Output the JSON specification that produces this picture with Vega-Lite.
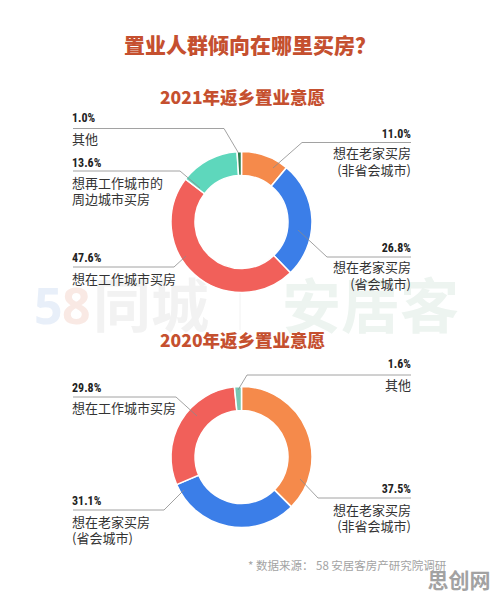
{
  "$schema": "https://vega.github.io/schema/vega-lite/v6.json",
  "width": 496,
  "height": 599,
  "autosize": {"type": "fit", "contains": "padding"},
  "padding": 0,
  "background": "white",
  "config": {"view": {"stroke": null}, "text": {"font": "Noto Sans CJK SC"}},
  "datasets": {
    "shares": [
      {"year": "2021", "category": "想在老家买房（非省会城市）", "label": "想在老家买房\n(非省会城市)", "value": 11.0},
      {"year": "2021", "category": "想在老家买房（省会城市）", "label": "想在老家买房\n(省会城市)", "value": 26.8},
      {"year": "2021", "category": "想在工作城市买房", "label": "想在工作城市买房", "value": 47.6},
      {"year": "2021", "category": "想再工作城市的周边城市买房", "label": "想再工作城市的\n周边城市买房", "value": 13.6},
      {"year": "2021", "category": "其他", "label": "其他", "value": 1.0},
      {"year": "2020", "category": "想在老家买房（非省会城市）", "label": "想在老家买房\n(非省会城市)", "value": 37.5},
      {"year": "2020", "category": "想在老家买房（省会城市）", "label": "想在老家买房\n(省会城市)", "value": 31.1},
      {"year": "2020", "category": "想在工作城市买房", "label": "想在工作城市买房", "value": 29.8},
      {"year": "2020", "category": "其他", "label": "其他", "value": 1.6}
    ]
  },
  "data": {"name": "shares"},
  "transform": [
    {"calculate": "format(datum.value, '.1f') + '%'", "as": "pct"},
    {"calculate": "datum.category == '其他' ? '其他' + datum.year : datum.category", "as": "colorKey"}
  ],
  "layer": [
    {
      "data": {"values": [{}]},
      "layer": [
        {"mark": {"type": "text", "text": "5", "fontSize": 50, "fontWeight": "bold", "align": "left", "baseline": "middle", "color": "#e8eff9", "font": "Noto Sans"},
         "encoding": {"x": {"datum": 34, "type": "quantitative", "scale": {"domain": [0, 496], "nice": false, "zero": false}, "axis": null},
                      "y": {"datum": 309, "type": "quantitative", "scale": {"domain": [0, 599], "nice": false, "zero": false, "reverse": true}, "axis": null}}},
        {"mark": {"type": "text", "text": "8", "fontSize": 50, "fontWeight": "bold", "align": "left", "baseline": "middle", "color": "#f9e9e4", "font": "Noto Sans"},
         "encoding": {"x": {"datum": 62, "type": "quantitative", "scale": {"domain": [0, 496], "nice": false, "zero": false}, "axis": null},
                      "y": {"datum": 309, "type": "quantitative", "scale": {"domain": [0, 599], "nice": false, "zero": false, "reverse": true}, "axis": null}}},
        {"mark": {"type": "text", "text": "同城", "fontSize": 58, "fontWeight": "bold", "align": "left", "baseline": "middle", "color": "#f2f2f2"},
         "encoding": {"x": {"datum": 93, "type": "quantitative", "scale": {"domain": [0, 496], "nice": false, "zero": false}, "axis": null},
                      "y": {"datum": 310, "type": "quantitative", "scale": {"domain": [0, 599], "nice": false, "zero": false, "reverse": true}, "axis": null}}},
        {"mark": {"type": "text", "text": "安居客", "fontSize": 59, "fontWeight": "bold", "align": "left", "baseline": "middle", "color": "#edf4f0"},
         "encoding": {"x": {"datum": 282, "type": "quantitative", "scale": {"domain": [0, 496], "nice": false, "zero": false}, "axis": null},
                      "y": {"datum": 310, "type": "quantitative", "scale": {"domain": [0, 599], "nice": false, "zero": false, "reverse": true}, "axis": null}}},
        {"mark": {"type": "rule", "color": "#f2f2f2", "strokeWidth": 1},
         "encoding": {"x": {"datum": 240, "type": "quantitative", "scale": {"domain": [0, 496], "nice": false, "zero": false}, "axis": null},
                      "y": {"datum": 284, "type": "quantitative", "scale": {"domain": [0, 599], "nice": false, "zero": false, "reverse": true}, "axis": null},
                      "y2": {"datum": 330}}},
        {"mark": {"type": "text", "text": "置业人群倾向在哪里买房？", "fontSize": 21, "fontWeight": 900, "align": "center", "baseline": "middle", "color": "#c5502f"},
         "encoding": {"x": {"datum": 250, "type": "quantitative", "scale": {"domain": [0, 496], "nice": false, "zero": false}, "axis": null},
                      "y": {"datum": 46.5, "type": "quantitative", "scale": {"domain": [0, 599], "nice": false, "zero": false, "reverse": true}, "axis": null}}},
        {"mark": {"type": "text", "text": "2021年返乡置业意愿", "fontSize": 17.5, "fontWeight": 900, "align": "center", "baseline": "middle", "color": "#c5502f"},
         "encoding": {"x": {"datum": 242.5, "type": "quantitative", "scale": {"domain": [0, 496], "nice": false, "zero": false}, "axis": null},
                      "y": {"datum": 98.5, "type": "quantitative", "scale": {"domain": [0, 599], "nice": false, "zero": false, "reverse": true}, "axis": null}}},
        {"mark": {"type": "text", "text": "2020年返乡置业意愿", "fontSize": 17.5, "fontWeight": 900, "align": "center", "baseline": "middle", "color": "#c5502f"},
         "encoding": {"x": {"datum": 242.5, "type": "quantitative", "scale": {"domain": [0, 496], "nice": false, "zero": false}, "axis": null},
                      "y": {"datum": 341.5, "type": "quantitative", "scale": {"domain": [0, 599], "nice": false, "zero": false, "reverse": true}, "axis": null}}},
        {"mark": {"type": "text", "text": "* 数据来源： 58 安居客房产研究院调研", "fontSize": 11.5, "align": "left", "baseline": "middle", "color": "#a3a3a3"},
         "encoding": {"x": {"datum": 248, "type": "quantitative", "scale": {"domain": [0, 496], "nice": false, "zero": false}, "axis": null},
                      "y": {"datum": 567, "type": "quantitative", "scale": {"domain": [0, 599], "nice": false, "zero": false, "reverse": true}, "axis": null}}},
        {"mark": {"type": "text", "text": "思创网", "fontSize": 21, "fontWeight": "bold", "align": "center", "baseline": "middle", "color": "#a2a2a2"},
         "encoding": {"x": {"datum": 459, "type": "quantitative", "scale": {"domain": [0, 496], "nice": false, "zero": false}, "axis": null},
                      "y": {"datum": 581.5, "type": "quantitative", "scale": {"domain": [0, 599], "nice": false, "zero": false, "reverse": true}, "axis": null}}}
      ]
    },
    {
      "transform": [{"filter": "datum.year == '2021'"}, {"window": [{"op": "row_number", "as": "idx"}]}],
      "mark": {"type": "arc", "outerRadius": 70.5, "innerRadius": 46.5, "stroke": "white", "strokeWidth": 1.5},
      "encoding": {
        "theta": {"field": "value", "type": "quantitative", "stack": true},
        "order": {"field": "idx", "type": "quantitative"},
        "color": {"field": "colorKey", "type": "nominal", "legend": null,
                  "scale": {"domain": ["想在老家买房（非省会城市）", "想在老家买房（省会城市）", "想在工作城市买房", "想再工作城市的周边城市买房", "其他2021", "其他2020"],
                            "range": ["#f58a4b", "#3b7ee8", "#f1605a", "#5ed7bc", "#2f7c4e", "#78c8b3"]}},
        "x": {"datum": 241.5, "type": "quantitative", "scale": {"domain": [0, 496], "nice": false, "zero": false}, "axis": null},
        "y": {"datum": 222, "type": "quantitative", "scale": {"domain": [0, 599], "nice": false, "zero": false, "reverse": true}, "axis": null}
      }
    },
    {
      "transform": [{"filter": "datum.year == '2020'"}, {"window": [{"op": "row_number", "as": "idx"}]}],
      "mark": {"type": "arc", "outerRadius": 70.5, "innerRadius": 46.5, "stroke": "white", "strokeWidth": 1.5},
      "encoding": {
        "theta": {"field": "value", "type": "quantitative", "stack": true},
        "order": {"field": "idx", "type": "quantitative"},
        "color": {"field": "colorKey", "type": "nominal", "legend": null,
                  "scale": {"domain": ["想在老家买房（非省会城市）", "想在老家买房（省会城市）", "想在工作城市买房", "想再工作城市的周边城市买房", "其他2021", "其他2020"],
                            "range": ["#f58a4b", "#3b7ee8", "#f1605a", "#5ed7bc", "#2f7c4e", "#78c8b3"]}},
        "x": {"datum": 241.5, "type": "quantitative", "scale": {"domain": [0, 496], "nice": false, "zero": false}, "axis": null},
        "y": {"datum": 457, "type": "quantitative", "scale": {"domain": [0, 599], "nice": false, "zero": false, "reverse": true}, "axis": null}
      }
    },
    {
      "transform": [{"filter": "datum.year == '2021' && datum.category == '其他'"}],
      "layer": [
        {"mark": {"type": "rule", "color": "#8a8a8a", "strokeWidth": 0.8},
         "encoding": {"x": {"datum": 73, "type": "quantitative", "scale": {"domain": [0, 496], "nice": false, "zero": false}, "axis": null}, "x2": {"datum": 224},
                      "y": {"datum": 128.5, "type": "quantitative", "scale": {"domain": [0, 599], "nice": false, "zero": false, "reverse": true}, "axis": null}, "y2": {"datum": 128.5}}},
        {"mark": {"type": "rule", "color": "#8a8a8a", "strokeWidth": 0.8},
         "encoding": {"x": {"datum": 224, "type": "quantitative", "scale": {"domain": [0, 496], "nice": false, "zero": false}, "axis": null}, "x2": {"datum": 238.5},
                      "y": {"datum": 128.5, "type": "quantitative", "scale": {"domain": [0, 599], "nice": false, "zero": false, "reverse": true}, "axis": null}, "y2": {"datum": 153}}},
        {"mark": {"type": "text", "align": "left", "baseline": "middle", "fontSize": 12, "fontWeight": "bold", "color": "#222", "font": "Liberation Sans Narrow, Roboto Condensed, Roboto"},
         "encoding": {"text": {"field": "pct"}, "x": {"datum": 72, "type": "quantitative", "scale": {"domain": [0, 496], "nice": false, "zero": false}, "axis": null},
                      "y": {"datum": 117.5, "type": "quantitative", "scale": {"domain": [0, 599], "nice": false, "zero": false, "reverse": true}, "axis": null}}},
        {"mark": {"type": "text", "align": "left", "baseline": "middle", "fontSize": 13, "color": "#333", "lineBreak": "\n", "lineHeight": 15.5},
         "encoding": {"text": {"field": "label"}, "x": {"datum": 72, "type": "quantitative", "scale": {"domain": [0, 496], "nice": false, "zero": false}, "axis": null},
                      "y": {"datum": 140, "type": "quantitative", "scale": {"domain": [0, 599], "nice": false, "zero": false, "reverse": true}, "axis": null}}}
      ]
    },
    {
      "transform": [{"filter": "datum.year == '2021' && datum.category == '想再工作城市的周边城市买房'"}],
      "layer": [
        {"mark": {"type": "rule", "color": "#8a8a8a", "strokeWidth": 0.8},
         "encoding": {"x": {"datum": 73, "type": "quantitative", "scale": {"domain": [0, 496], "nice": false, "zero": false}, "axis": null}, "x2": {"datum": 180},
                      "y": {"datum": 171, "type": "quantitative", "scale": {"domain": [0, 599], "nice": false, "zero": false, "reverse": true}, "axis": null}, "y2": {"datum": 171}}},
        {"mark": {"type": "rule", "color": "#8a8a8a", "strokeWidth": 0.8},
         "encoding": {"x": {"datum": 180, "type": "quantitative", "scale": {"domain": [0, 496], "nice": false, "zero": false}, "axis": null}, "x2": {"datum": 200},
                      "y": {"datum": 171, "type": "quantitative", "scale": {"domain": [0, 599], "nice": false, "zero": false, "reverse": true}, "axis": null}, "y2": {"datum": 188}}},
        {"mark": {"type": "text", "align": "left", "baseline": "middle", "fontSize": 12, "fontWeight": "bold", "color": "#222", "font": "Liberation Sans Narrow, Roboto Condensed, Roboto"},
         "encoding": {"text": {"field": "pct"}, "x": {"datum": 72, "type": "quantitative", "scale": {"domain": [0, 496], "nice": false, "zero": false}, "axis": null},
                      "y": {"datum": 162.5, "type": "quantitative", "scale": {"domain": [0, 599], "nice": false, "zero": false, "reverse": true}, "axis": null}}},
        {"mark": {"type": "text", "align": "left", "baseline": "middle", "fontSize": 13, "color": "#333", "lineBreak": "\n", "lineHeight": 15.5},
         "encoding": {"text": {"field": "label"}, "x": {"datum": 72, "type": "quantitative", "scale": {"domain": [0, 496], "nice": false, "zero": false}, "axis": null},
                      "y": {"datum": 184, "type": "quantitative", "scale": {"domain": [0, 599], "nice": false, "zero": false, "reverse": true}, "axis": null}}}
      ]
    },
    {
      "transform": [{"filter": "datum.year == '2021' && datum.category == '想在工作城市买房'"}],
      "layer": [
        {"mark": {"type": "rule", "color": "#8a8a8a", "strokeWidth": 0.8},
         "encoding": {"x": {"datum": 73, "type": "quantitative", "scale": {"domain": [0, 496], "nice": false, "zero": false}, "axis": null}, "x2": {"datum": 174},
                      "y": {"datum": 267, "type": "quantitative", "scale": {"domain": [0, 599], "nice": false, "zero": false, "reverse": true}, "axis": null}, "y2": {"datum": 267}}},
        {"mark": {"type": "rule", "color": "#8a8a8a", "strokeWidth": 0.8},
         "encoding": {"x": {"datum": 174, "type": "quantitative", "scale": {"domain": [0, 496], "nice": false, "zero": false}, "axis": null}, "x2": {"datum": 186},
                      "y": {"datum": 267, "type": "quantitative", "scale": {"domain": [0, 599], "nice": false, "zero": false, "reverse": true}, "axis": null}, "y2": {"datum": 256}}},
        {"mark": {"type": "text", "align": "left", "baseline": "middle", "fontSize": 12, "fontWeight": "bold", "color": "#222", "font": "Liberation Sans Narrow, Roboto Condensed, Roboto"},
         "encoding": {"text": {"field": "pct"}, "x": {"datum": 72, "type": "quantitative", "scale": {"domain": [0, 496], "nice": false, "zero": false}, "axis": null},
                      "y": {"datum": 257.5, "type": "quantitative", "scale": {"domain": [0, 599], "nice": false, "zero": false, "reverse": true}, "axis": null}}},
        {"mark": {"type": "text", "align": "left", "baseline": "middle", "fontSize": 13, "color": "#333", "lineBreak": "\n", "lineHeight": 15.5},
         "encoding": {"text": {"field": "label"}, "x": {"datum": 72, "type": "quantitative", "scale": {"domain": [0, 496], "nice": false, "zero": false}, "axis": null},
                      "y": {"datum": 280, "type": "quantitative", "scale": {"domain": [0, 599], "nice": false, "zero": false, "reverse": true}, "axis": null}}}
      ]
    },
    {
      "transform": [{"filter": "datum.year == '2021' && datum.category == '想在老家买房（非省会城市）'"}],
      "layer": [
        {"mark": {"type": "rule", "color": "#8a8a8a", "strokeWidth": 0.8},
         "encoding": {"x": {"datum": 411, "type": "quantitative", "scale": {"domain": [0, 496], "nice": false, "zero": false}, "axis": null}, "x2": {"datum": 302},
                      "y": {"datum": 142.5, "type": "quantitative", "scale": {"domain": [0, 599], "nice": false, "zero": false, "reverse": true}, "axis": null}, "y2": {"datum": 142.5}}},
        {"mark": {"type": "rule", "color": "#8a8a8a", "strokeWidth": 0.8},
         "encoding": {"x": {"datum": 302, "type": "quantitative", "scale": {"domain": [0, 496], "nice": false, "zero": false}, "axis": null}, "x2": {"datum": 273},
                      "y": {"datum": 142.5, "type": "quantitative", "scale": {"domain": [0, 599], "nice": false, "zero": false, "reverse": true}, "axis": null}, "y2": {"datum": 168}}},
        {"mark": {"type": "text", "align": "right", "baseline": "middle", "fontSize": 12, "fontWeight": "bold", "color": "#222", "font": "Liberation Sans Narrow, Roboto Condensed, Roboto"},
         "encoding": {"text": {"field": "pct"}, "x": {"datum": 411, "type": "quantitative", "scale": {"domain": [0, 496], "nice": false, "zero": false}, "axis": null},
                      "y": {"datum": 134, "type": "quantitative", "scale": {"domain": [0, 599], "nice": false, "zero": false, "reverse": true}, "axis": null}}},
        {"mark": {"type": "text", "align": "right", "baseline": "middle", "fontSize": 13, "color": "#333", "lineBreak": "\n", "lineHeight": 16.5},
         "encoding": {"text": {"field": "label"}, "x": {"datum": 411, "type": "quantitative", "scale": {"domain": [0, 496], "nice": false, "zero": false}, "axis": null},
                      "y": {"datum": 154, "type": "quantitative", "scale": {"domain": [0, 599], "nice": false, "zero": false, "reverse": true}, "axis": null}}}
      ]
    },
    {
      "transform": [{"filter": "datum.year == '2021' && datum.category == '想在老家买房（省会城市）'"}],
      "layer": [
        {"mark": {"type": "rule", "color": "#8a8a8a", "strokeWidth": 0.8},
         "encoding": {"x": {"datum": 411, "type": "quantitative", "scale": {"domain": [0, 496], "nice": false, "zero": false}, "axis": null}, "x2": {"datum": 327},
                      "y": {"datum": 257, "type": "quantitative", "scale": {"domain": [0, 599], "nice": false, "zero": false, "reverse": true}, "axis": null}, "y2": {"datum": 257}}},
        {"mark": {"type": "rule", "color": "#8a8a8a", "strokeWidth": 0.8},
         "encoding": {"x": {"datum": 327, "type": "quantitative", "scale": {"domain": [0, 496], "nice": false, "zero": false}, "axis": null}, "x2": {"datum": 298},
                      "y": {"datum": 257, "type": "quantitative", "scale": {"domain": [0, 599], "nice": false, "zero": false, "reverse": true}, "axis": null}, "y2": {"datum": 230}}},
        {"mark": {"type": "text", "align": "right", "baseline": "middle", "fontSize": 12, "fontWeight": "bold", "color": "#222", "font": "Liberation Sans Narrow, Roboto Condensed, Roboto"},
         "encoding": {"text": {"field": "pct"}, "x": {"datum": 411, "type": "quantitative", "scale": {"domain": [0, 496], "nice": false, "zero": false}, "axis": null},
                      "y": {"datum": 247.5, "type": "quantitative", "scale": {"domain": [0, 599], "nice": false, "zero": false, "reverse": true}, "axis": null}}},
        {"mark": {"type": "text", "align": "right", "baseline": "middle", "fontSize": 13, "color": "#333", "lineBreak": "\n", "lineHeight": 16.5},
         "encoding": {"text": {"field": "label"}, "x": {"datum": 411, "type": "quantitative", "scale": {"domain": [0, 496], "nice": false, "zero": false}, "axis": null},
                      "y": {"datum": 268, "type": "quantitative", "scale": {"domain": [0, 599], "nice": false, "zero": false, "reverse": true}, "axis": null}}}
      ]
    },
    {
      "transform": [{"filter": "datum.year == '2020' && datum.category == '其他'"}],
      "layer": [
        {"mark": {"type": "rule", "color": "#8a8a8a", "strokeWidth": 0.8},
         "encoding": {"x": {"datum": 411, "type": "quantitative", "scale": {"domain": [0, 496], "nice": false, "zero": false}, "axis": null}, "x2": {"datum": 247},
                      "y": {"datum": 375, "type": "quantitative", "scale": {"domain": [0, 599], "nice": false, "zero": false, "reverse": true}, "axis": null}, "y2": {"datum": 375}}},
        {"mark": {"type": "rule", "color": "#8a8a8a", "strokeWidth": 0.8},
         "encoding": {"x": {"datum": 247, "type": "quantitative", "scale": {"domain": [0, 496], "nice": false, "zero": false}, "axis": null}, "x2": {"datum": 238},
                      "y": {"datum": 375, "type": "quantitative", "scale": {"domain": [0, 599], "nice": false, "zero": false, "reverse": true}, "axis": null}, "y2": {"datum": 390}}},
        {"mark": {"type": "text", "align": "right", "baseline": "middle", "fontSize": 12, "fontWeight": "bold", "color": "#222", "font": "Liberation Sans Narrow, Roboto Condensed, Roboto"},
         "encoding": {"text": {"field": "pct"}, "x": {"datum": 411, "type": "quantitative", "scale": {"domain": [0, 496], "nice": false, "zero": false}, "axis": null},
                      "y": {"datum": 364, "type": "quantitative", "scale": {"domain": [0, 599], "nice": false, "zero": false, "reverse": true}, "axis": null}}},
        {"mark": {"type": "text", "align": "right", "baseline": "middle", "fontSize": 13, "color": "#333", "lineBreak": "\n", "lineHeight": 16},
         "encoding": {"text": {"field": "label"}, "x": {"datum": 411, "type": "quantitative", "scale": {"domain": [0, 496], "nice": false, "zero": false}, "axis": null},
                      "y": {"datum": 386, "type": "quantitative", "scale": {"domain": [0, 599], "nice": false, "zero": false, "reverse": true}, "axis": null}}}
      ]
    },
    {
      "transform": [{"filter": "datum.year == '2020' && datum.category == '想在工作城市买房'"}],
      "layer": [
        {"mark": {"type": "rule", "color": "#8a8a8a", "strokeWidth": 0.8},
         "encoding": {"x": {"datum": 73, "type": "quantitative", "scale": {"domain": [0, 496], "nice": false, "zero": false}, "axis": null}, "x2": {"datum": 176},
                      "y": {"datum": 397, "type": "quantitative", "scale": {"domain": [0, 599], "nice": false, "zero": false, "reverse": true}, "axis": null}, "y2": {"datum": 397}}},
        {"mark": {"type": "rule", "color": "#8a8a8a", "strokeWidth": 0.8},
         "encoding": {"x": {"datum": 176, "type": "quantitative", "scale": {"domain": [0, 496], "nice": false, "zero": false}, "axis": null}, "x2": {"datum": 197},
                      "y": {"datum": 397, "type": "quantitative", "scale": {"domain": [0, 599], "nice": false, "zero": false, "reverse": true}, "axis": null}, "y2": {"datum": 416}}},
        {"mark": {"type": "text", "align": "left", "baseline": "middle", "fontSize": 12, "fontWeight": "bold", "color": "#222", "font": "Liberation Sans Narrow, Roboto Condensed, Roboto"},
         "encoding": {"text": {"field": "pct"}, "x": {"datum": 72, "type": "quantitative", "scale": {"domain": [0, 496], "nice": false, "zero": false}, "axis": null},
                      "y": {"datum": 387.5, "type": "quantitative", "scale": {"domain": [0, 599], "nice": false, "zero": false, "reverse": true}, "axis": null}}},
        {"mark": {"type": "text", "align": "left", "baseline": "middle", "fontSize": 13, "color": "#333", "lineBreak": "\n", "lineHeight": 16},
         "encoding": {"text": {"field": "label"}, "x": {"datum": 72, "type": "quantitative", "scale": {"domain": [0, 496], "nice": false, "zero": false}, "axis": null},
                      "y": {"datum": 409, "type": "quantitative", "scale": {"domain": [0, 599], "nice": false, "zero": false, "reverse": true}, "axis": null}}}
      ]
    },
    {
      "transform": [{"filter": "datum.year == '2020' && datum.category == '想在老家买房（非省会城市）'"}],
      "layer": [
        {"mark": {"type": "rule", "color": "#8a8a8a", "strokeWidth": 0.8},
         "encoding": {"x": {"datum": 411, "type": "quantitative", "scale": {"domain": [0, 496], "nice": false, "zero": false}, "axis": null}, "x2": {"datum": 318},
                      "y": {"datum": 498, "type": "quantitative", "scale": {"domain": [0, 599], "nice": false, "zero": false, "reverse": true}, "axis": null}, "y2": {"datum": 498}}},
        {"mark": {"type": "rule", "color": "#8a8a8a", "strokeWidth": 0.8},
         "encoding": {"x": {"datum": 318, "type": "quantitative", "scale": {"domain": [0, 496], "nice": false, "zero": false}, "axis": null}, "x2": {"datum": 300},
                      "y": {"datum": 498, "type": "quantitative", "scale": {"domain": [0, 599], "nice": false, "zero": false, "reverse": true}, "axis": null}, "y2": {"datum": 479}}},
        {"mark": {"type": "text", "align": "right", "baseline": "middle", "fontSize": 12, "fontWeight": "bold", "color": "#222", "font": "Liberation Sans Narrow, Roboto Condensed, Roboto"},
         "encoding": {"text": {"field": "pct"}, "x": {"datum": 411, "type": "quantitative", "scale": {"domain": [0, 496], "nice": false, "zero": false}, "axis": null},
                      "y": {"datum": 488.5, "type": "quantitative", "scale": {"domain": [0, 599], "nice": false, "zero": false, "reverse": true}, "axis": null}}},
        {"mark": {"type": "text", "align": "right", "baseline": "middle", "fontSize": 13, "color": "#333", "lineBreak": "\n", "lineHeight": 15.5},
         "encoding": {"text": {"field": "label"}, "x": {"datum": 411, "type": "quantitative", "scale": {"domain": [0, 496], "nice": false, "zero": false}, "axis": null},
                      "y": {"datum": 511, "type": "quantitative", "scale": {"domain": [0, 599], "nice": false, "zero": false, "reverse": true}, "axis": null}}}
      ]
    },
    {
      "transform": [{"filter": "datum.year == '2020' && datum.category == '想在老家买房（省会城市）'"}],
      "layer": [
        {"mark": {"type": "rule", "color": "#8a8a8a", "strokeWidth": 0.8},
         "encoding": {"x": {"datum": 73, "type": "quantitative", "scale": {"domain": [0, 496], "nice": false, "zero": false}, "axis": null}, "x2": {"datum": 164},
                      "y": {"datum": 510, "type": "quantitative", "scale": {"domain": [0, 599], "nice": false, "zero": false, "reverse": true}, "axis": null}, "y2": {"datum": 510}}},
        {"mark": {"type": "rule", "color": "#8a8a8a", "strokeWidth": 0.8},
         "encoding": {"x": {"datum": 164, "type": "quantitative", "scale": {"domain": [0, 496], "nice": false, "zero": false}, "axis": null}, "x2": {"datum": 184},
                      "y": {"datum": 510, "type": "quantitative", "scale": {"domain": [0, 599], "nice": false, "zero": false, "reverse": true}, "axis": null}, "y2": {"datum": 490}}},
        {"mark": {"type": "text", "align": "left", "baseline": "middle", "fontSize": 12, "fontWeight": "bold", "color": "#222", "font": "Liberation Sans Narrow, Roboto Condensed, Roboto"},
         "encoding": {"text": {"field": "pct"}, "x": {"datum": 72, "type": "quantitative", "scale": {"domain": [0, 496], "nice": false, "zero": false}, "axis": null},
                      "y": {"datum": 500.5, "type": "quantitative", "scale": {"domain": [0, 599], "nice": false, "zero": false, "reverse": true}, "axis": null}}},
        {"mark": {"type": "text", "align": "left", "baseline": "middle", "fontSize": 13, "color": "#333", "lineBreak": "\n", "lineHeight": 15.5},
         "encoding": {"text": {"field": "label"}, "x": {"datum": 72, "type": "quantitative", "scale": {"domain": [0, 496], "nice": false, "zero": false}, "axis": null},
                      "y": {"datum": 523, "type": "quantitative", "scale": {"domain": [0, 599], "nice": false, "zero": false, "reverse": true}, "axis": null}}}
      ]
    }
  ]
}
